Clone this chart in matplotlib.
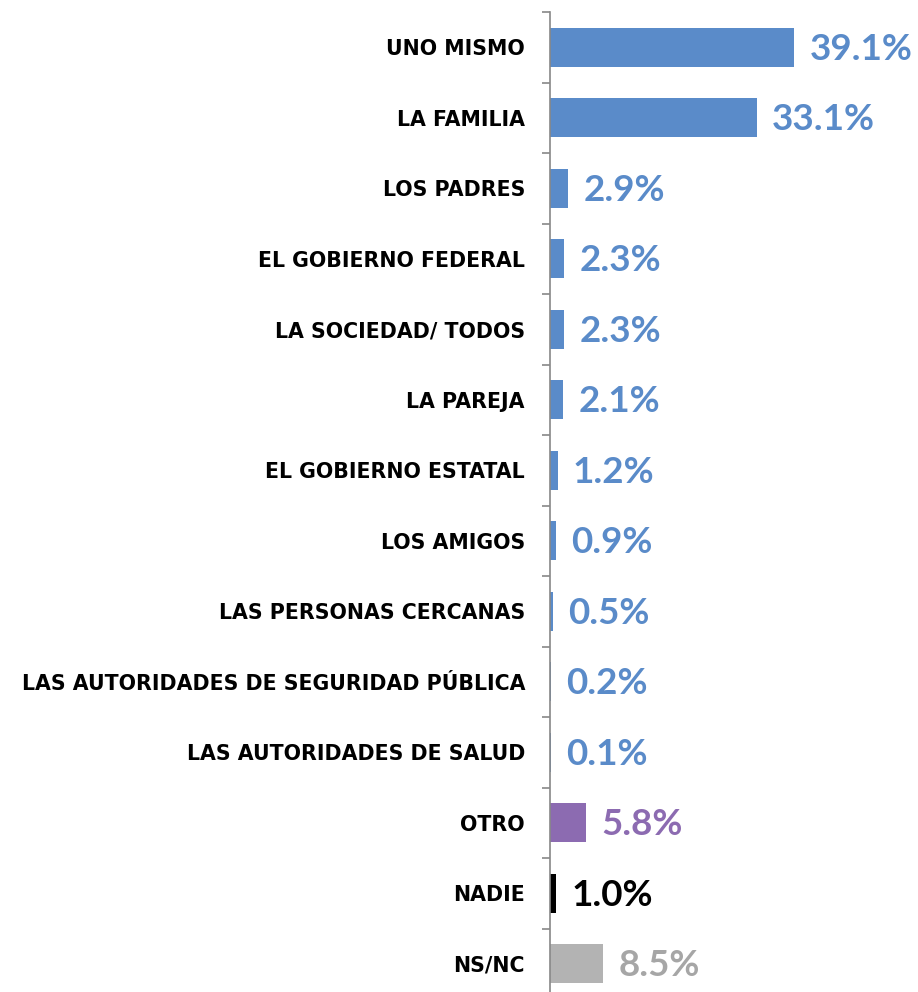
import matplotlib.pyplot as plt
import numpy as np

categories = ["UNO MISMO", "LA FAMILIA", "LOS PADRES", "EL GOBIERNO FEDERAL",
              "LA SOCIEDAD/ TODOS", "LA PAREJA", "EL GOBIERNO ESTATAL",
              "LOS AMIGOS", "LAS PERSONAS CERCANAS",
              "LAS AUTORIDADES DE SEGURIDAD PÚBLICA",
              "LAS AUTORIDADES DE SALUD", "OTRO", "NADIE", "NS/NC"]
values = [39.1, 33.1, 2.9, 2.3, 2.3, 2.1, 1.2, 0.9, 0.5, 0.2, 0.1, 5.8, 1.0, 8.5]

BLUE = "#5a8bc9"
colors = [BLUE] * 11 + ["#8c6bb1", "#000000", "#b3b3b3"]
label_colors = [BLUE] * 11 + ["#8c6bb1", "#000000", "#a6a6a6"]

W, H = 918, 992
fig = plt.figure(figsize=(W / 100, H / 100), dpi=100)
left, top, step = 550, 12, 70.5
bottom = top + step * len(categories)
ax = fig.add_axes([left / W, 1 - bottom / H, (W - left) / W, (bottom - top) / H])

y = np.arange(len(categories))
ax.barh(y, values, height=0.55, color=colors)
ax.set_ylim(len(categories) - 0.5, -0.5)
ax.set_xlim(0, (W - left) / 6.25)

for yi, v, c in zip(y, values, label_colors):
    ax.annotate(f"{v:.1f}%", (v, yi), xytext=(11, -1.5), textcoords="offset points",
                ha="left", va="center", fontsize=26.5, fontweight="bold",
                color=c, family="Lato")

ax.set_yticks(y)
ax.set_yticklabels(categories, fontsize=14.8, fontweight="bold", family="DejaVu Sans")
ax.tick_params(axis="y", which="major", length=0, pad=18)
ax.set_yticks(np.arange(len(categories) + 1) - 0.5, minor=True)
ax.tick_params(axis="y", which="minor", length=6, width=1.2, color="#888888")
ax.set_xticks([])
for s in ["top", "right", "bottom"]:
    ax.spines[s].set_visible(False)
ax.spines["left"].set_color("#888888")
ax.spines["left"].set_linewidth(1.2)

fig.savefig("out.png", dpi=100)
